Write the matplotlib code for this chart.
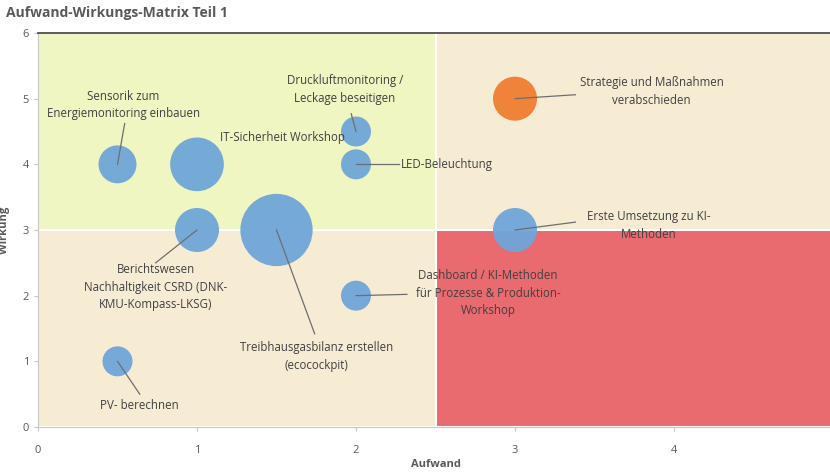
import matplotlib.pyplot as plt
from matplotlib.patches import Rectangle

plt.rcParams['font.family'] = ['Open Sans', 'DejaVu Sans']

# Daten
labels = [
    "Sensorik zum\nEnergiemonitoring einbauen",
    "IT-Sicherheit Workshop",
    "Berichtswesen\nNachhaltigkeit CSRD (DNK-\nKMU-Kompass-LKSG)",
    "Treibhausgasbilanz erstellen\n(ecocockpit)",
    "Druckluftmonitoring /\nLeckage beseitigen",
    "LED-Beleuchtung",
    "Dashboard / KI-Methoden\nfür Prozesse & Produktion-\nWorkshop",
    "PV- berechnen",
    "Strategie und Maßnahmen\nverabschieden",
    "Erste Umsetzung zu KI-\nMethoden",
]
aufwand = [0.5, 1.0, 1.0, 1.5, 2.0, 2.0, 2.0, 0.5, 3.0, 3.0]
wirkung = [4.0, 4.0, 3.0, 3.0, 4.5, 4.0, 2.0, 1.0, 5.0, 3.0]
groesse = [1.6, 3.2, 2.15, 5.8, 1.0, 1.0, 1.0, 1.0, 2.15, 2.15]
farbe = ['#6FA6D8'] * 8 + ['#EE7D31', '#6FA6D8']
x_ticks = [0, 1, 2, 3, 4]
y_ticks = [0, 1, 2, 3, 4, 5, 6]

# Textpositionen der Beschriftungen (Datenkoordinaten) und Anker
text_x = [0.535, 1.535, 0.74, 1.75, 1.93, 2.28, 2.83, 0.64, 3.86, 3.84]
text_y = [4.9, 4.41, 2.13, 1.07, 5.14, 4.0, 2.04, 0.32, 5.11, 3.07]
text_ha = ['center', 'center', 'center', 'center', 'center', 'left',
           'center', 'center', 'center', 'center']
leader_end = [(0.545, 4.62), None, (0.74, 2.5), (1.74, 1.42), (1.97, 4.77),
              (2.27, 4.0), (2.32, 2.02), (0.64, 0.5), (3.38, 5.06), (3.38, 3.12)]

fig = plt.figure(figsize=(8.3, 4.76), dpi=100)
ax = fig.add_axes([38 / 830, 49 / 476, 795 / 830, 394 / 476])

# Quadranten
ax.add_patch(Rectangle((0, 3), 2.5, 3, facecolor='#EFF6C2', edgecolor='white', lw=1.5, zorder=0))
ax.add_patch(Rectangle((2.5, 3), 2.5, 3, facecolor='#F6ECD3', edgecolor='white', lw=1.5, zorder=0))
ax.add_patch(Rectangle((0, 0), 2.5, 3, facecolor='#F6ECD3', edgecolor='white', lw=1.5, zorder=0))
ax.add_patch(Rectangle((2.5, 0), 2.5, 3, facecolor='#E96B6F', edgecolor='white', lw=1.5, zorder=0))

ax.scatter(aufwand, wirkung, s=[g * 467 for g in groesse], c=farbe,
           alpha=0.95, linewidths=0, zorder=3)

for i, lab in enumerate(labels):
    if leader_end[i] is not None:
        ax.plot([aufwand[i], leader_end[i][0]], [wirkung[i], leader_end[i][1]],
                color='#6E6E6E', lw=0.9, zorder=4)
    ax.text(text_x[i], text_y[i], lab, ha=text_ha[i], va='center',
            fontsize=8.3, color='#404040', linespacing=1.45, zorder=5)

ax.set_xlim(0, 5)
ax.set_ylim(0, 6)
ax.set_xticks(x_ticks)
ax.set_yticks(y_ticks)
ax.tick_params(colors='#C8C8C8', labelcolor='#595959', labelsize=8, length=3, width=0.8)
ax.tick_params(axis='x', pad=10)

for s in ['left', 'bottom']:
    ax.spines[s].set_color('#C8C8C8')
ax.spines['top'].set_color('#404040')
ax.spines['top'].set_linewidth(1.2)
ax.spines['right'].set_visible(False)

ax.set_xlabel('Aufwand', fontsize=8, fontweight='bold', color='#595959', labelpad=2)
ax.set_ylabel('Wirkung', fontsize=8, fontweight='bold', color='#595959', labelpad=9)

fig.text(6 / 830, 1 - 13 / 476, 'Aufwand-Wirkungs-Matrix Teil 1', fontsize=10,
         fontweight='bold', color='#595959', va='center', ha='left')

fig.savefig('out.png', dpi=100)
